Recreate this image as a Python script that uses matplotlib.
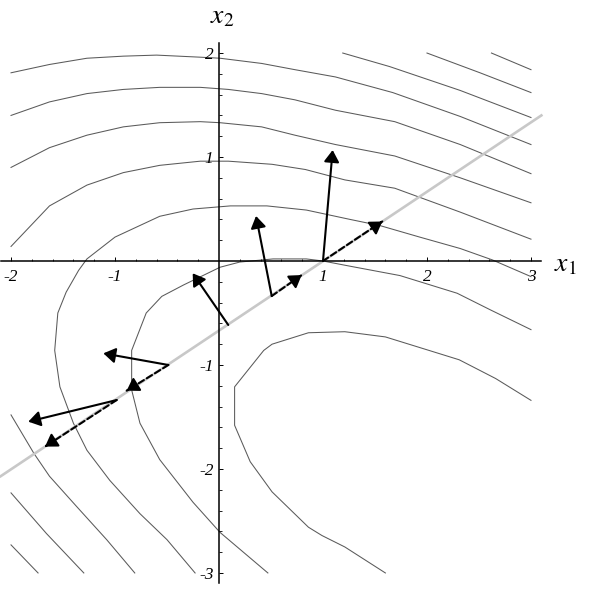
import numpy as np
import matplotlib
matplotlib.use('Agg')
from matplotlib import pyplot as plt

plt.rcParams['mathtext.fontset'] = 'stix'

# ________________________________________________________________________
# level curves (x1, x2)

c0a_x = [2.62, 3.0]
c0a_y = [2.0, 1.84]
c0b_x = [2.0, 2.51, 3.0]
c0b_y = [2.0, 1.81, 1.62]
c0c_x = [1.19, 1.64, 2.32, 3.0]
c0c_y = [2.0, 1.87, 1.64, 1.38]

c1_x = [-2.0, -1.63, -1.27, -0.92, -0.6, -0.18, 0.01, 0.41, 0.73, 1.12, 1.67, 2.32, 3.0]
c1_y = [1.81, 1.89, 1.95, 1.97, 1.98, 1.96, 1.95, 1.90, 1.84, 1.77, 1.62, 1.39, 1.12]

c2_x = [-2.0, -1.63, -1.27, -0.92, -0.57, -0.18, 0.09, 0.41, 0.73, 1.12, 1.69, 2.32, 3.0]
c2_y = [1.40, 1.53, 1.61, 1.65, 1.67, 1.67, 1.65, 1.61, 1.55, 1.45, 1.34, 1.12, 0.84]
c2b_x = [-2.0, -1.74]
c2b_y = [-2.73, -3.0]

c3_x = [-2.0, -1.63, -1.27, -0.92, -0.57, -0.18, 0.01, 0.41, 0.73, 1.12, 1.69, 2.32, 3.0]
c3_y = [0.90, 1.09, 1.21, 1.29, 1.33, 1.34, 1.33, 1.29, 1.21, 1.12, 1.01, 0.80, 0.56]
c3b_x = [-2.0, -1.66, -1.30]
c3b_y = [-2.23, -2.62, -3.0]

c4_x = [-2.0, -1.63, -1.27, -0.92, -0.57, -0.18, 0.09, 0.51, 0.83, 1.21, 1.69, 2.32, 3.0]
c4_y = [0.14, 0.53, 0.73, 0.85, 0.92, 0.96, 0.96, 0.93, 0.88, 0.78, 0.70, 0.47, 0.21]
c4b_x = [-2.0, -1.78, -1.63, -1.37, -1.08, -0.81]
c4b_y = [-1.48, -1.85, -2.07, -2.36, -2.68, -3.0]

c5_x = [-0.23, -0.50, -0.76, -1.05, -1.27, -1.40, -1.53, -1.58, -1.55, -1.47, -1.35,
        -1.27, -1.0, -0.57, -0.25, 0.11, 0.46, 0.84, 1.26, 1.55, 1.93, 2.32, 2.63, 3.0]
c5_y = [-3.0, -2.68, -2.43, -2.11, -1.82, -1.56, -1.21, -0.86, -0.50, -0.30, -0.09,
        0.02, 0.23, 0.43, 0.50, 0.53, 0.53, 0.49, 0.40, 0.34, 0.23, 0.12, 0.01, -0.15]

c6_x = [0.47, 0.01, -0.25, -0.57, -0.76, -0.84, -0.84, -0.70, -0.55, -0.34, 0.01,
        0.20, 0.52, 0.84, 1.0, 1.26, 1.74, 2.29, 2.61, 3.0]
c6_y = [-3.0, -2.61, -2.32, -1.91, -1.56, -1.24, -0.86, -0.50, -0.34, -0.23, -0.06,
        -0.01, 0.02, 0.02, 0.0, -0.05, -0.14, -0.31, -0.47, -0.66]

c7_x = [1.60, 1.21, 0.99, 0.86, 0.51, 0.30, 0.15, 0.15, 0.43, 0.51, 0.86, 1.21,
        1.60, 2.02, 2.31, 2.66, 3.0]
c7_y = [-3.0, -2.75, -2.64, -2.56, -2.22, -1.93, -1.58, -1.21, -0.86, -0.80, -0.69,
        -0.68, -0.73, -0.86, -0.95, -1.13, -1.34]

levels = [(c0a_x, c0a_y), (c0b_x, c0b_y), (c0c_x, c0c_y), (c1_x, c1_y),
          (c2_x, c2_y), (c2b_x, c2b_y), (c3_x, c3_y), (c3b_x, c3b_y),
          (c4_x, c4_y), (c4b_x, c4b_y), (c5_x, c5_y), (c6_x, c6_y), (c7_x, c7_y)]

# constraint line
line_x = [-2.1, 3.1]
line_y = [-2.07, 1.4]

# points on the line, gradient tips, projected gradient tips
pt_x = [1.0, 0.507, 0.089, -0.487, -0.984]
pt_y = [0.0, -0.337, -0.615, -1.0, -1.337]
grad_x = [1.093, 0.356, -0.253, -1.112, -1.834]
grad_y = [1.067, 0.433, -0.118, -0.888, -1.545]
proj_x = [1.57, 0.795, None, -0.888, -1.673]
proj_y = [0.38, -0.135, None, -1.247, -1.785]

xticks = [-2, -1, 1, 2, 3]
yticks = [-3, -2, -1, 1, 2]


fig = plt.figure(figsize=(5.89, 6.0), dpi=100)
ax = fig.add_axes([0, 0, 1, 1])
ax.set_xlim(-2.106, 3.558)
ax.set_ylim(-3.26, 2.51)

for cx, cy in levels:
    ax.plot(cx, cy, color='#5a5a5a', lw=0.75, zorder=1)

ax.plot(line_x, line_y, color='#c8c8c8', lw=1.9, zorder=2)

head = '-|>,head_length=0.42,head_width=0.27'
solid = dict(arrowstyle=head, mutation_scale=17, lw=1.5, color='black',
             shrinkA=0, shrinkB=0)
for k in range(len(pt_x)):
    ax.annotate('', xy=(grad_x[k], grad_y[k]), xytext=(pt_x[k], pt_y[k]),
                arrowprops=solid, zorder=4)
    if proj_x[k] is not None:
        # dashed shaft, then a solid head laid on its end
        ax.annotate('', xy=(proj_x[k], proj_y[k]), xytext=(pt_x[k], pt_y[k]),
                    arrowprops=dict(arrowstyle='-', lw=1.5, color='black',
                                    shrinkA=0, shrinkB=0,
                                    linestyle=(0, (3, 1.6))),
                    zorder=4)
        bx = proj_x[k] + 0.02 * (pt_x[k] - proj_x[k])
        by = proj_y[k] + 0.02 * (pt_y[k] - proj_y[k])
        ax.annotate('', xy=(proj_x[k], proj_y[k]), xytext=(bx, by),
                    arrowprops=solid, zorder=4)

# axes through the origin
for s in ['top', 'right']:
    ax.spines[s].set_visible(False)
ax.spines['left'].set_position(('data', 0))
ax.spines['bottom'].set_position(('data', 0))
ax.spines['left'].set_bounds(-3.1, 2.1)
ax.spines['bottom'].set_bounds(-2.1, 3.1)
ax.spines['left'].set_linewidth(1.1)
ax.spines['bottom'].set_linewidth(1.1)

tfont = dict(family='Liberation Serif', style='italic', size=12.5)
ax.set_xticks(xticks)
ax.set_xticklabels([str(t) for t in xticks], **tfont)
ax.set_yticks(yticks)
ax.set_yticklabels([str(t) for t in yticks], **tfont)
minor = [v for v in np.arange(-3, 3.01, 0.2) if abs(v - round(v)) > 1e-6]
ax.set_xticks([v for v in minor if v > -2], minor=True)
ax.set_yticks([v for v in minor if v < 2], minor=True)
ax.tick_params(which='major', direction='in', length=3.2, width=0.7)
ax.tick_params(which='minor', direction='in', length=1.8, width=0.6)
ax.tick_params(axis='x', which='major', pad=5.5)
ax.tick_params(axis='y', which='major', pad=4.0)

ax.text(3.22, -0.096, '$x_1$', fontsize=20, ha='left', va='baseline')
ax.text(-0.09, 2.285, '$x_2$', fontsize=20, ha='left', va='baseline')

fig.savefig('out.png', dpi=100)
